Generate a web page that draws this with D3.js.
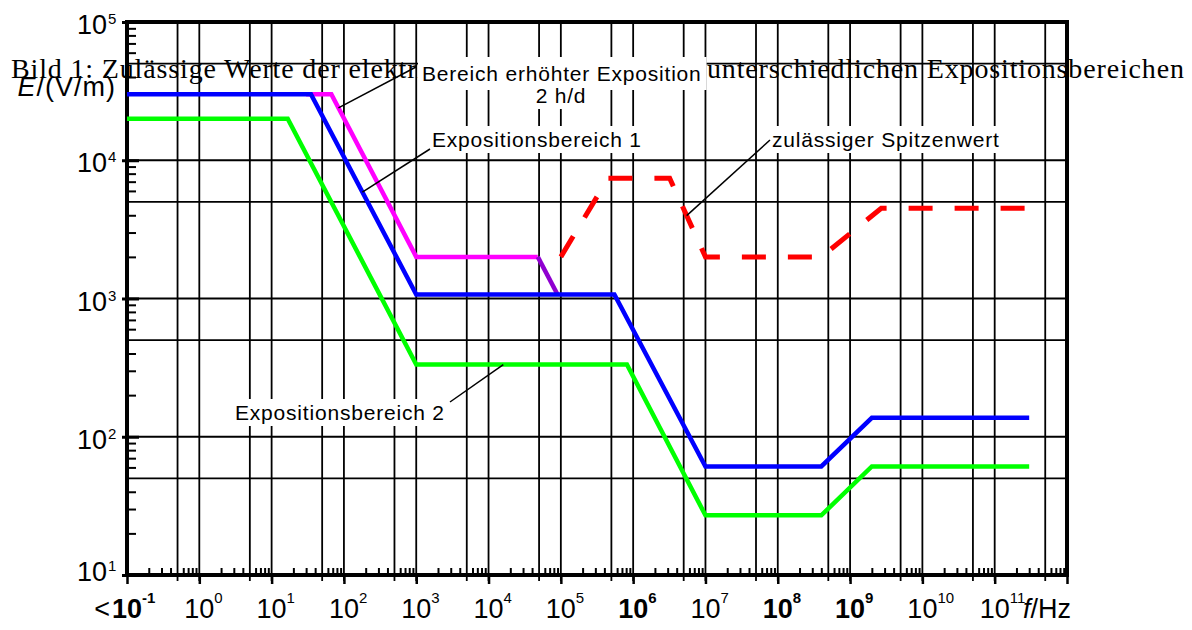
<!DOCTYPE html>
<html>
<head>
<meta charset="utf-8">
<script src="https://d3js.org/d3.v7.min.js"></script>
<style>
  body { margin: 0; background: white; }
  text { font-family: "Liberation Sans", Arial, sans-serif; fill: black; }
  .title { font-family: "Liberation Serif", "Times New Roman", serif; font-size: 28px; letter-spacing: 0.85px; }
  .note { font-size: 21px; letter-spacing: 0.8px; }
  .tick10 { font-size: 27px; }
  .expo { font-size: 15px; }
</style>
</head>
<body>
<script>
/* grenzwerte elektrische feldstaerke, log-log plot
 * frequenz in Hz, feldstaerke in V/m
 */

// Expositionsbereich 2 (gruen)
var bereich2F = [0.1, 16.7, 1e3, 8.2e5, 1e7, 4e8, 2e9, 3e11];
var bereich2E = [20000, 20000, 333, 333, 27, 27, 61, 61];

// Expositionsbereich 1 (blau)
var bereich1F = [0.1, 35, 1e3, 5.5e5, 1e7, 4e8, 2e9, 3e11];
var bereich1E = [30000, 30000, 1070, 1070, 61, 61, 137, 137];

// Bereich erhoehter Exposition 2 h/d (magenta + lila uebergang)
var erhoehtF = [30, 67, 1e3, 4.8e4];
var erhoehtE = [30000, 30000, 2000, 2000];
var uebergangF = [4.8e4, 9e4];
var uebergangE = [2000, 1070];

// zulaessiger Spitzenwert (rot gestrichelt)
var spitzeF = [1e5, 4.5e5, 3.2e6, 1e7, 4e8, 2.7e9, 3e11];
var spitzeE = [2000, 7400, 7400, 2000, 2000, 4500, 4500];

// tick labels
var xExponents = [-1, 0, 1, 2, 3, 4, 5, 6, 7, 8, 9, 10, 11];
var yExponents = [1, 2, 3, 4, 5];
var boldExponents = [-1, 6, 8, 9];
var minorSteps = [2, 3, 4, 6, 7, 8, 9];

var titleParts = ["Bild 1: Zulässige Werte der elektrischen Feldstärke in ", "unterschiedlichen Expositionsbereichen"];
var noteTexts = ["Bereich erhöhter Exposition", "2 h/d", "Expositionsbereich 1", "zulässiger Spitzenwert", "Expositionsbereich 2"];

var width = 1192, height = 630;

var svg = d3.select("body")
            .append("svg")
            .attr("width", width)
            .attr("height", height);

var x = d3.scaleLog().domain([1e-1, 1e12]).range([127, 1067]);
var y = d3.scaleLog().domain([1e1, 1e5]).range([575, 22]);

// grid at 10^n and 5*10^n
var xGrid = [], xMinor = [], xMajor = [];
xExponents.forEach(function(e) {
  if (e > -1) xGrid.push(Math.pow(10, e));
  xGrid.push(5 * Math.pow(10, e));
  xMajor.push(Math.pow(10, e));
  minorSteps.forEach(function(k) { xMinor.push(k * Math.pow(10, e)); });
});
xMajor.push(1e12);

var yGrid = [], yMinor = [], yMajor = [];
yExponents.forEach(function(e) {
  yMajor.push(Math.pow(10, e));
  if (e == 5) return;
  if (e > 1) yGrid.push(Math.pow(10, e));
  yGrid.push(5 * Math.pow(10, e));
  minorSteps.forEach(function(k) { yMinor.push(k * Math.pow(10, e)); });
});

svg.append("g").selectAll("line")
  .data(xGrid).enter().append("line")
  .attr("x1", function(d) { return x(d); })
  .attr("x2", function(d) { return x(d); })
  .attr("y1", y(1e5))
  .attr("y2", y(1e1) + 6)
  .style("stroke", "black")
  .style("stroke-width", 1.8);

svg.append("g").selectAll("line")
  .data(yGrid).enter().append("line")
  .attr("x1", x(1e-1))
  .attr("x2", x(1e12))
  .attr("y1", function(d) { return y(d); })
  .attr("y2", function(d) { return y(d); })
  .style("stroke", "black")
  .style("stroke-width", 1.8);

// minor ticks pointing inward
var gxm = svg.append("g")
  .attr("transform", "translate(0," + y(1e1) + ")")
  .call(d3.axisBottom(x).tickValues(xMinor).tickSize(-7).tickFormat(""));
var gxM = svg.append("g")
  .attr("transform", "translate(0," + y(1e1) + ")")
  .call(d3.axisBottom(x).tickValues(xMajor).tickSize(9).tickFormat(""));
var gym = svg.append("g")
  .attr("transform", "translate(" + x(1e-1) + ",0)")
  .call(d3.axisLeft(y).tickValues(yMinor).tickSize(-9).tickFormat(""));
var gyM = svg.append("g")
  .attr("transform", "translate(" + x(1e-1) + ",0)")
  .call(d3.axisLeft(y).tickValues(yMajor).tickSize(5).tickFormat(""));
gyM.selectAll(".tick").append("line").attr("x2", 12);
[gxm, gxM, gym, gyM].forEach(function(g) {
  g.select(".domain").remove();
  g.selectAll("line").style("stroke", "black").style("stroke-width", 2);
});
gxM.selectAll("line").style("stroke-width", 2.5);
gyM.selectAll("line").style("stroke-width", 3);

// frame
svg.append("rect")
  .attr("x", x(1e-1))
  .attr("y", y(1e5))
  .attr("width", x(1e12) - x(1e-1))
  .attr("height", y(1e1) - y(1e5))
  .style("fill", "none")
  .style("stroke", "black")
  .style("stroke-width", 4);

// curves
var line = d3.line()
  .x(function(d) { return x(d[0]); })
  .y(function(d) { return y(d[1]); });

function drawCurve(F, E, color, dash) {
  svg.append("path")
    .datum(d3.zip(F, E))
    .attr("d", line)
    .style("fill", "none")
    .style("stroke", color)
    .style("stroke-width", dash ? 5 : 4.5)
    .style("stroke-dasharray", dash ? dash : null)
    .style("stroke-linejoin", "miter");
}
drawCurve(erhoehtF, erhoehtE, "#ff00ff");
drawCurve(uebergangF, uebergangE, "#8f00d0");
drawCurve(spitzeF, spitzeE, "#ff0000", "24,22");
drawCurve(bereich2F, bereich2E, "#00ff00");
drawCurve(bereich1F, bereich1E, "#0000ff");

// tick labels
xExponents.forEach(function(e) {
  var px = x(Math.pow(10, e));
  var bold = boldExponents.indexOf(e) >= 0 ? "bold" : "normal";
  svg.append("text").attr("class", "tick10")
    .attr("x", px).attr("y", 618)
    .attr("text-anchor", "middle")
    .style("font-weight", bold)
    .text("10");
  svg.append("text").attr("class", "expo")
    .attr("x", px + 15).attr("y", 603)
    .style("font-weight", bold)
    .text(e);
  if (e == -1) {
    svg.append("text").attr("class", "tick10")
      .attr("x", px - 17).attr("y", 618)
      .attr("text-anchor", "end")
      .text("<");
  }
});

yExponents.forEach(function(e) {
  var py = y(Math.pow(10, e));
  var off = e == 1 ? 6 : 12;
  svg.append("text").attr("class", "tick10")
    .attr("x", 107).attr("y", py + off)
    .attr("text-anchor", "end")
    .text("10");
  svg.append("text").attr("class", "expo")
    .attr("x", 108).attr("y", py + off - 10)
    .text(e);
});

// axis titles
var fl = svg.append("text").attr("class", "tick10")
  .attr("x", 1023).attr("y", 618);
fl.append("tspan").style("font-style", "italic").text("f");
fl.append("tspan").text("/Hz");

var el = svg.append("text").attr("class", "tick10")
  .attr("x", 116).attr("y", 96)
  .attr("text-anchor", "end")
  .style("letter-spacing", "1px");
el.append("tspan").style("font-style", "italic").text("E");
el.append("tspan").text("/(V/m)");

// title
var tt = svg.append("text").attr("class", "title").attr("y", 78);
tt.append("tspan").attr("x", 11).style("letter-spacing", "0.85px").text(titleParts[0]);
tt.append("tspan").attr("x", 707).text(titleParts[1]);

// point on a curve (log-log interpolation)
function valueAt(F, E, f) {
  for (var i = 0; i < F.length - 1; i++) {
    if (f >= F[i] && f <= F[i + 1]) {
      var t = (Math.log(f) - Math.log(F[i])) / (Math.log(F[i + 1]) - Math.log(F[i]));
      return Math.exp(Math.log(E[i]) + t * (Math.log(E[i + 1]) - Math.log(E[i])));
    }
  }
}

// leader lines
var leaders = [
  [erhoehtF, erhoehtE, 84, 416, 67],
  [bereich1F, bereich1E, 180, 430, 149],
  [spitzeF, spitzeE, 5.5e6, 770, 140],
  [bereich2F, bereich2E, 1.6e4, 450, 402]
];
leaders.forEach(function(l) {
  svg.append("line")
    .attr("x1", x(l[2]))
    .attr("y1", y(valueAt(l[0], l[1], l[2])))
    .attr("x2", l[3])
    .attr("y2", l[4])
    .style("stroke", "black")
    .style("stroke-width", 1.5);
});

// notes with white background
var notePos = [[422, 81, "start", 5], [561, 103, "middle", 2], [432, 147, "start", 2], [772, 147, "start", 2], [235, 420, "start", 2]];
noteTexts.forEach(function(t, i) {
  var g = svg.append("g");
  var txt = g.append("text").attr("class", "note")
    .attr("x", notePos[i][0]).attr("y", notePos[i][1])
    .attr("text-anchor", notePos[i][2])
    .text(t);
  var bb = txt.node().getBBox();
  var p = notePos[i][3];
  g.insert("rect", "text")
    .attr("x", bb.x - p + 1).attr("y", bb.y - p)
    .attr("width", bb.width + 2 * p - 1).attr("height", bb.height + 2 * p)
    .style("fill", "white");
});
</script>
</body>
</html>
